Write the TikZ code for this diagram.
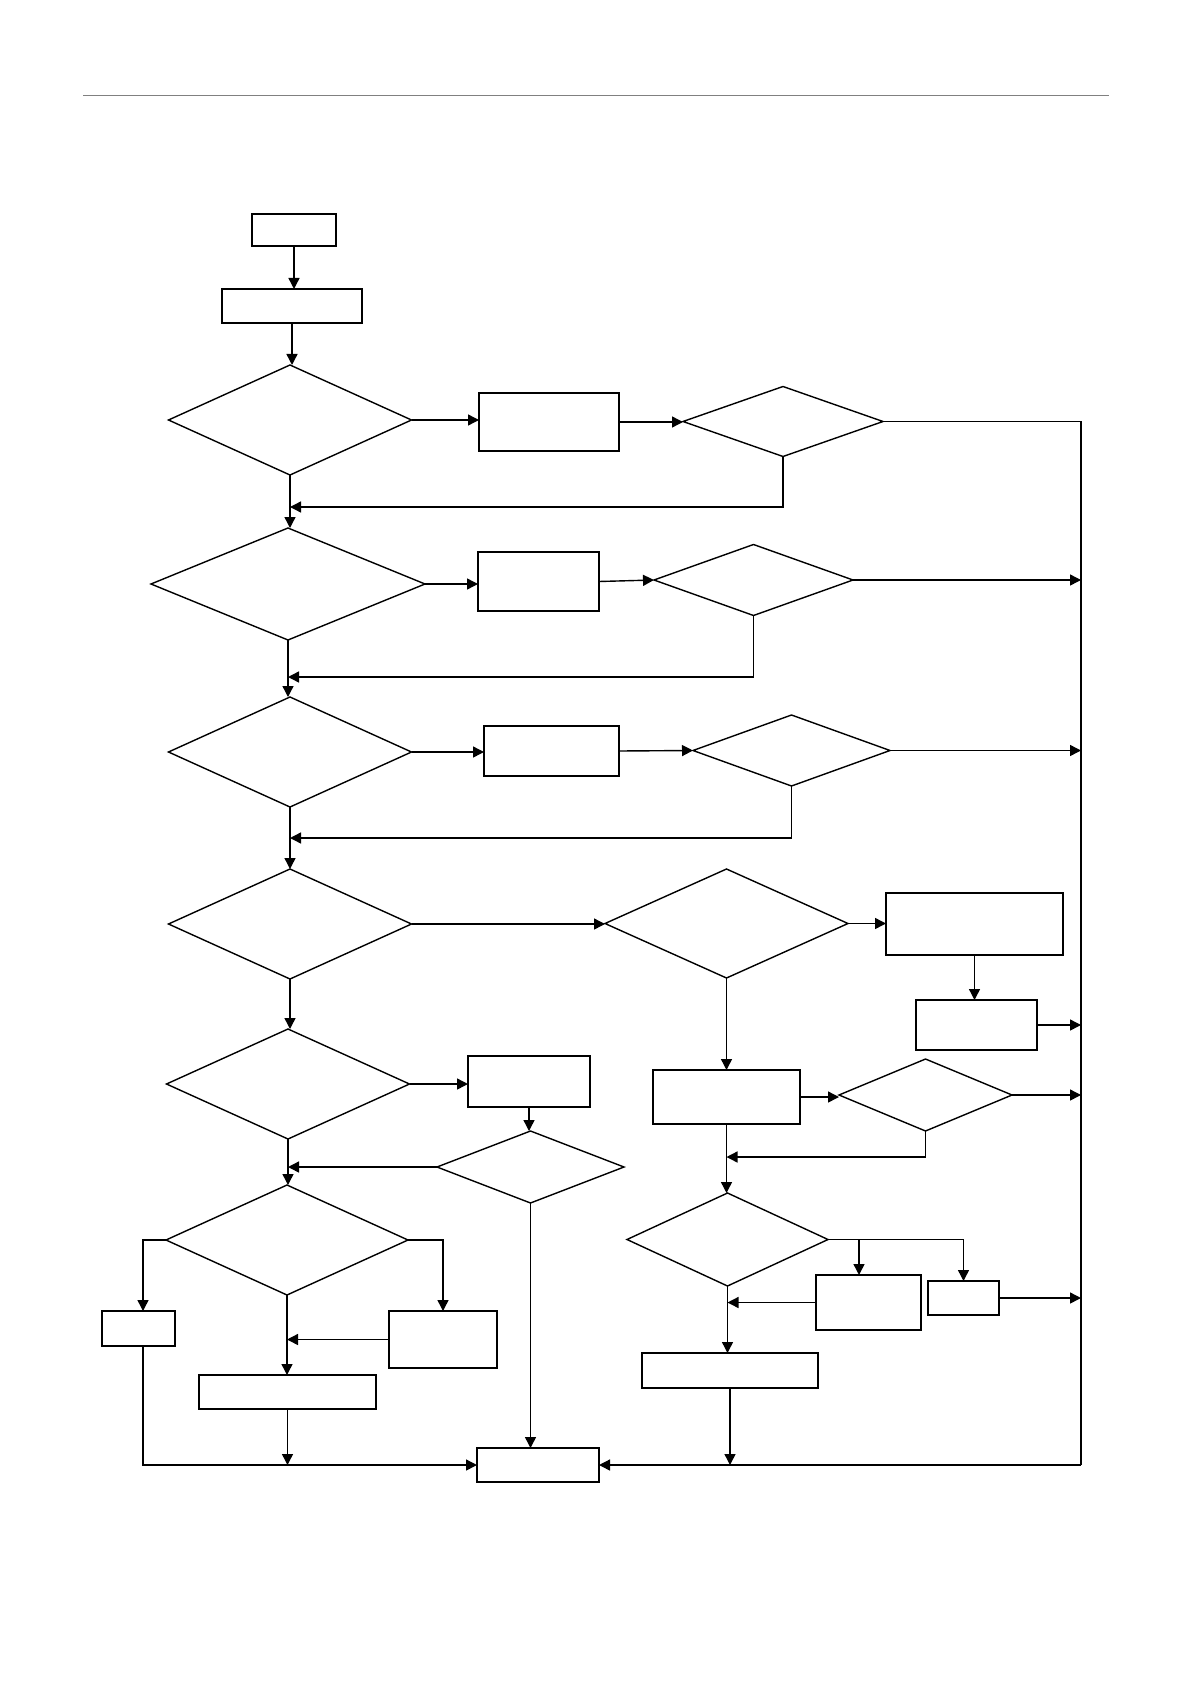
\documentclass[tikz,border=0pt]{standalone}
\usepackage{tikz}
\usetikzlibrary{shapes.geometric}
\usetikzlibrary{positioning, arrows.meta}
\tikzset{
  box/.style={draw,line width=0.7pt,inner sep=0,outer sep=0},
  dec/.style={draw,diamond,line width=0.7pt,inner sep=0,outer sep=0},
  flow/.style={->,line width=0.7pt},
  link/.style={line width=0.7pt}
}

\begin{document}
\begin{tikzpicture}[x=0.5pt, y=-0.5pt, >={Triangle[length=5.5pt,width=5.5pt]}]

  \useasboundingbox (0,0) rectangle (1191,1684);
  \draw[gray, line width=0.5pt] (83,96) -- (1109,96);

  % nodes, main column
  \node[box, minimum width=42pt, minimum height=16pt] (start) at (294,230) {};
  \node[box, minimum width=70pt, minimum height=17pt] (init) at (292,306) {};
  \node[dec, minimum width=121.5pt, minimum height=55pt] (d1) at (290,420) {};
  \node[dec, minimum width=137pt, minimum height=56pt] (d2) at (288,584) {};
  \node[dec, minimum width=121.5pt, minimum height=55pt] (d3) at (290,752) {};
  \node[dec, minimum width=121.5pt, minimum height=55pt] (d4) at (290,924) {};
  \node[dec, minimum width=121.5pt, minimum height=55pt] (d5) at (288,1084) {};
  \node[dec, minimum width=121pt, minimum height=55pt] (d6) at (287,1240) {};
  \node[box, minimum width=36.5pt, minimum height=17.5pt] (b6l) at (138.5,1328.5) {};
  \node[box, minimum width=54pt, minimum height=28.5pt] (b6r) at (443,1339.5) {};
  \node[box, minimum width=88.5pt, minimum height=17pt] (b6d) at (287.5,1392) {};
  \node[box, minimum width=61pt, minimum height=17pt] (stop) at (538,1465) {};

  % nodes, side branches
  \node[box, minimum width=70pt, minimum height=29pt] (b1) at (549,422) {};
  \node[dec, minimum width=100pt, minimum height=35pt] (d1r) at (783,421.5) {};
  \node[box, minimum width=60.5pt, minimum height=29.5pt] (b2) at (538.5,581.5) {};
  \node[dec, minimum width=99.5pt, minimum height=35.5pt] (d2r) at (753.5,580) {};
  \node[box, minimum width=67.5pt, minimum height=25pt] (b3) at (551.5,751) {};
  \node[dec, minimum width=98.5pt, minimum height=35.5pt] (d3r) at (791.5,750.5) {};
  \node[dec, minimum width=121.5pt, minimum height=54.5pt] (d4r) at (726.5,923.5) {};
  \node[box, minimum width=88.5pt, minimum height=31pt] (b4a) at (974.5,924) {};
  \node[box, minimum width=60.5pt, minimum height=25pt] (b4b) at (976.5,1025) {};
  \node[box, minimum width=73.5pt, minimum height=27pt] (b4c) at (726.5,1097) {};
  \node[dec, minimum width=86.5pt, minimum height=36pt] (d4c) at (925.5,1095) {};
  \node[dec, minimum width=100.5pt, minimum height=46.5pt] (d7) at (727.5,1239.5) {};
  \node[box, minimum width=52.5pt, minimum height=27.5pt] (b7a) at (868.5,1302.5) {};
  \node[box, minimum width=35.5pt, minimum height=17pt] (b7b) at (963.5,1298) {};
  \node[box, minimum width=88pt, minimum height=17.5pt] (b7c) at (730,1370.5) {};
  \node[box, minimum width=61pt, minimum height=25.5pt] (b5) at (529,1081.5) {};
  \node[dec, minimum width=93.5pt, minimum height=36pt] (d5r) at (530.5,1167) {};

  % bends and free ends
  \coordinate (rtop) at (1081,421.5);
  \coordinate (rbot) at (1081,1465);
  \coordinate (r1) at (290,507);
  \coordinate (r2) at (288,677);
  \coordinate (r3) at (290,838);
  \coordinate (r4) at (726.5,1157);
  \coordinate (s7) at (859,1239.5);
  \coordinate (s6) at (143,1240);

  % main column arrows
  \draw[flow] (start) -- (start |- init.north);
  \draw[flow] (init) -- (init |- d1.north);
  \draw[flow] (d1.south) -- (d1.south |- d2.north);
  \draw[flow] (d2.south) -- (d2.south |- d3.north);
  \draw[flow] (d3.south) -- (d3.south |- d4.north);
  \draw[flow] (d4.south) -- (d4.south |- d5.north);
  \draw[flow] (d5.south) -- (d5.south |- d6.north);
  \draw[flow] (d6.south) -- (d6.south |- b6d.north);

  % row 1 to 3
  \draw[flow] (d1.east) -- (d1.east -| b1.west);
  \draw[flow] (b1.east) -- (b1.east -| d1r.west);
  \draw[link] (d1r.east) -- (rtop) -- (rbot);
  \draw[flow] (d1r.south) |- (r1);
  \draw[flow] (d2.east) -- (d2.east -| b2.west);
  \draw[flow] (b2.east) -- (d2r.west);
  \draw[flow] (d2r.east) -- (d2r.east -| rtop);
  \draw[flow] (d2r.south) |- (r2);
  \draw[flow] (d3.east) -- (d3.east -| b3.west);
  \draw[flow] (b3.east) -- (d3r.west);
  \draw[flow] (d3r.east) -- (d3r.east -| rtop);
  \draw[flow] (d3r.south) |- (r3);

  % row 4, right side
  \draw[flow] (d4.east) -- (d4.east -| d4r.west);
  \draw[flow] (d4r.east) -- (d4r.east -| b4a.west);
  \draw[flow] (b4a.south) -- (b4a.south |- b4b.north);
  \draw[flow] (b4b.east) -- (b4b.east -| rtop);
  \draw[flow] (d4r.south) -- (d4r.south |- b4c.north);
  \draw[flow] (b4c.east) -- (b4c.east -| d4c.west);
  \draw[flow] (d4c.east) -- (d4c.east -| rtop);
  \draw[flow] (d4c.south) |- (r4);
  \draw[flow] (b4c.south) -- (b4c.south |- d7.north);
  \draw[flow] (d7.east) -| (b7b.north);
  \draw[flow] (s7) -- (s7 |- b7a.north);
  \draw[flow] (b7b.east) -- (b7b.east -| rtop);
  \draw[flow] (b7a.west) -- (b7a.west -| d7.south);
  \draw[flow] (d7.south) -- (d7.south |- b7c.north);
  \draw[flow] (b7c.south) -- (b7c.south |- stop.east);

  % row 5 and 6, left side
  \draw[flow] (d5.east) -- (d5.east -| b5.west);
  \draw[flow] (b5.south) -- (b5.south |- d5r.north);
  \draw[flow] (d5r.west) -- (d5r.west -| d5.south);
  \draw[flow] (d5r.south) -- (d5r.south |- stop.north);
  \draw[flow] (d6.west) -- (s6) -- (s6 |- b6l.north);
  \draw[flow] (d6.east) -| (b6r.north);
  \draw[flow] (b6r.west) -- (b6r.west -| d6.south);
  \draw[flow] (b6d.south) -- (b6d.south |- stop.west);
  \draw[flow] (s6 |- b6l.south) |- (stop.west);
  \draw[flow] (rbot) -- (stop.east);

\end{tikzpicture}
\end{document}
